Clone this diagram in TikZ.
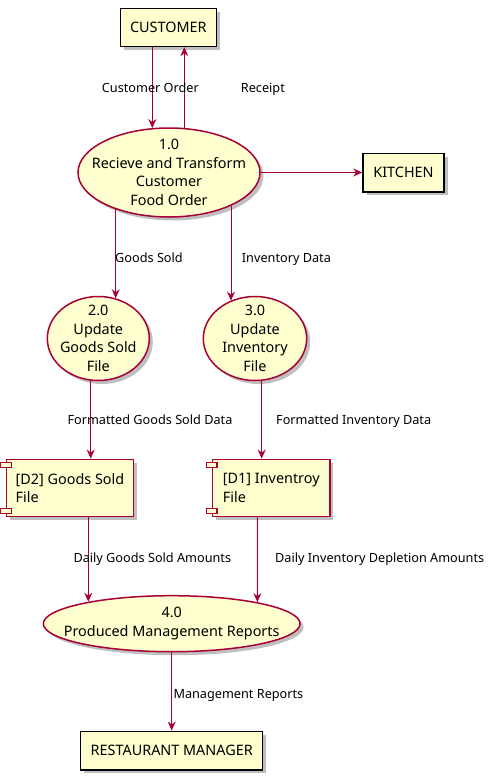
\documentclass[tikz,border=0pt]{standalone}
\usepackage{fontspec}
\setmainfont{Noto Sans}
\usetikzlibrary{shapes.geometric,shadows,arrows.meta,calc}
\definecolor{pfill}{HTML}{FEFECE}
\definecolor{pred}{HTML}{A80036}
\begin{document}
\begin{tikzpicture}[x=1pt,y=-1pt,
  myshadow/.style={drop shadow={shadow xshift=3.5pt,shadow yshift=-3.5pt,fill=black,opacity=0.25}},
  ent/.style={rectangle,draw=black,line width=1.5pt,fill=pfill,inner sep=0pt,
    font=\fontsize{14.4}{18.5}\selectfont,myshadow},
  proc/.style={ellipse,draw=pred,line width=1.5pt,fill=pfill,inner xsep=-40pt,inner ysep=-12pt,
    align=center,font=\fontsize{14.4}{18.5}\selectfont,myshadow},
  store/.style={rectangle,draw=pred,line width=1.5pt,fill=pfill,inner sep=0pt,align=left,
    font=\fontsize{14.4}{18.5}\selectfont,myshadow},
  tabbox/.style={draw=pred,line width=1.5pt,fill=pfill},
  flow/.style={draw=pred,line width=1pt,-{Stealth[length=9pt,width=8pt,inset=3pt]}},
  lbl/.style={anchor=base west,inner sep=0pt,font=\fontsize{12.7}{16}\selectfont}
]
\fill[white] (0,0) rectangle (494,780);
\useasboundingbox (0,0) rectangle (494,780);

% entities
\node[ent,minimum width=96pt,minimum height=38pt] (cust) at (168.3,27.5) {CUSTOMER};
\node[ent,minimum width=81pt,minimum height=38.5pt] (kitchen) at (403.5,172.5) {KITCHEN};
\node[ent,minimum width=182pt,minimum height=38.5pt] (rm) at (171.7,750.5) {RESTAURANT MANAGER};

% processes
\node[proc,minimum width=182pt,minimum height=89pt] (p1) at (169,172.5) {1.0\\Recieve and Transform\\Customer\\Food Order};
\node[proc,minimum width=102pt,minimum height=84pt] (p2) at (98.3,338.5) {2.0\\Update\\Goods Sold\\File};
\node[proc,minimum width=103.4pt,minimum height=84pt] (p3) at (255,338.5) {3.0\\Update\\Inventory\\File};
\node[proc,minimum width=256.7pt,minimum height=56pt] (p4) at (171.7,623.7) {4.0\\Produced Management Reports};

% data stores
\node[store,minimum width=126.6pt,minimum height=57.4pt] (d2) at (70,488) {[D2] Goods Sold\\File};
\node[store,minimum width=117.3pt,minimum height=57.4pt] (d1) at (271.3,488) {[D1] Inventroy\\File};
\draw[tabbox] ($(d2.north west)+(-5.3,4)$) rectangle ++(10.6,5);
\draw[tabbox] ($(d2.south west)+(-5.3,-9)$) rectangle ++(10.6,5);
\draw[tabbox] ($(d1.north west)+(-5.3,4)$) rectangle ++(10.6,5);
\draw[tabbox] ($(d1.south west)+(-5.3,-9)$) rectangle ++(10.6,5);

% flows
\draw[flow] ($(cust.south)+(-16,0)$) -- ($(p1.center)+(-16.7,-44.4)$);
\draw[flow] ($(p1.center)+(15.3,-44.6)$) -- ($(cust.south)+(16,0)$);
\draw[flow] (p1.east) -- (kitchen.west);
\draw[flow] ($(p1.center)+(-53.3,36.9)$) -- ($(p2.center)+(17.4,-40.3)$);
\draw[flow] ($(p1.center)+(62,33.4)$) -- ($(p3.center)+(-24,-37.9)$);
\draw[flow] ($(p2.center)+(-7.6,42.3)$) -- ($(d2.north)+(20.7,0)$);
\draw[flow] ($(p3.center)+(6.7,42.3)$) -- ($(d1.north)+(-9.6,0)$);
\draw[flow] ($(d2.south)+(18.3,0)$) -- ($(p4.center)+(-83.4,-22)$);
\draw[flow] ($(d1.south)+(-13.9,0)$) -- ($(p4.center)+(85.7,-21.6)$);
\draw[flow] (p4.south) -- (rm.north);

% labels
\node[lbl] (l1) at (101.7,92) {Customer Order};
\node[lbl] (l2) at (240.7,92) {Receipt};
\node[lbl] (l3) at (115,262.4) {Goods Sold};
\node[lbl] (l4) at (241.7,262.4) {Inventory Data};
\node[lbl] (l5) at (67.3,424.7) {Formatted Goods Sold Data};
\node[lbl] (l6) at (276,424.7) {Formatted Inventory Data};
\node[lbl] (l7) at (73.3,562.4) {Daily Goods Sold Amounts};
\node[lbl] (l8) at (275,562.4) {Daily Inventory Depletion Amounts};
\node[lbl] (l9) at (173.3,698) {Management Reports};
\end{tikzpicture}
\end{document}
